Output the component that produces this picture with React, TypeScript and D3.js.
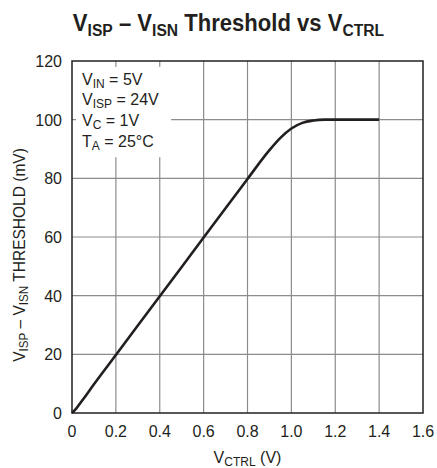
import React from 'react';
import * as d3 from 'd3';

// curve: V_CTRL (V) vs threshold (mV)
const vctrl = [0, 0.02, 0.05, 0.1, 0.2, 0.4, 0.6, 0.8, 0.9, 0.95, 1.0, 1.05, 1.1, 1.15, 1.2, 1.4];
const threshold = [0, 1.6, 4.6, 9.8, 19.8, 39.8, 59.8, 79.8, 89.6, 93.8, 97.0, 98.9, 99.7, 100, 100, 100];

const xTicks = [0, 0.2, 0.4, 0.6, 0.8, 1.0, 1.2, 1.4, 1.6];
const yTicks = [0, 20, 40, 60, 80, 100, 120];
const xTickLabels = ['0', '0.2', '0.4', '0.6', '0.8', '1.0', '1.2', '1.4', '1.6'];

const FONT = '"Liberation Sans", Arial, Helvetica, sans-serif';
const INK = '#231f20';

const W = 437;
const H = 468;
const margin = { top: 61, right: 14, bottom: 55, left: 72 };

const App: React.FC = () => {
  const x = d3.scaleLinear().domain([0, 1.6]).range([margin.left, W - margin.right]);
  const y = d3.scaleLinear().domain([0, 120]).range([H - margin.bottom, margin.top]);

  const pts = vctrl.map((v, i) => [v, threshold[i]] as [number, number]);
  const line = d3.line<[number, number]>()
    .x(d => x(d[0]))
    .y(d => y(d[1]))
    .curve(d3.curveMonotoneX);

  const x0 = x(0), x1 = x(1.6), y0 = y(0), y1 = y(120);
  // white box behind the conditions text
  const boxRight = x(0.452);
  const boxTop = y(118);
  const boxBottom = y(87.2);

  return (
    <svg width={W} height={H} style={{ position: 'absolute', left: 0, top: 0, background: '#fff' }}>
      <g fontFamily={FONT}>
        {/* title, condensed */}
        <g transform="translate(228.5,31) scale(0.92,1)">
          <text x={0} y={0} textAnchor="middle" fontSize={24} fontWeight="bold" fill={INK}>
            V<tspan fontSize={17} dy={5}>ISP</tspan>
            <tspan dy={-5}> – V</tspan>
            <tspan fontSize={17} dy={5}>ISN</tspan>
            <tspan dy={-5}> Threshold vs V</tspan>
            <tspan fontSize={17} dy={5}>CTRL</tspan>
          </text>
        </g>

        {/* grid */}
        {xTicks.slice(1, -1).map(t => (
          <line key={'gx' + t} x1={x(t)} x2={x(t)} y1={y0} y2={y1} stroke="#8c8c8c" strokeWidth={1.2} />
        ))}
        {yTicks.slice(1, -1).map(t => (
          <line key={'gy' + t} x1={x0} x2={x1} y1={y(t)} y2={y(t)} stroke="#8c8c8c" strokeWidth={1.2} />
        ))}

        <rect x={x0 + 4} y={boxTop} width={boxRight - x0 - 4} height={boxBottom - boxTop} fill="#fff" />

        {/* frame */}
        <rect x={x0} y={y1} width={x1 - x0} height={y0 - y1} fill="none" stroke={INK} strokeWidth={1.5} />

        {/* curve */}
        <path d={line(pts) || ''} fill="none" stroke={INK} strokeWidth={2.6} strokeLinejoin="round" />

        {/* tick labels */}
        {xTicks.map((t, i) => (
          <text key={'xl' + t} x={x(t)} y={437} textAnchor="middle" fontSize={16} fill={INK}>
            {xTickLabels[i]}
          </text>
        ))}
        {yTicks.map(t => (
          <text key={'yl' + t} x={62} y={y(t) + 6} textAnchor="end" fontSize={16} fill={INK}>
            {t}
          </text>
        ))}

        {/* axis titles */}
        <text x={(x0 + x1) / 2} y={463} textAnchor="middle" fontSize={16} fill={INK}>
          V<tspan fontSize={12} dy={3}>CTRL</tspan>
          <tspan dy={-3}> (V)</tspan>
        </text>
        <g transform="translate(25,255) rotate(-90) scale(0.97,1)">
          <text x={0} y={0} textAnchor="middle" fontSize={16} fill={INK}>
            V<tspan fontSize={12} dy={3}>ISP</tspan>
            <tspan dy={-3}> – V</tspan>
            <tspan fontSize={12} dy={3}>ISN</tspan>
            <tspan dy={-3}> THRESHOLD (mV)</tspan>
          </text>
        </g>

        {/* conditions */}
        <g fontSize={16} fill={INK}>
          <text x={82} y={85}>V<tspan fontSize={12} dy={3}>IN</tspan><tspan dy={-3}> = 5V</tspan></text>
          <text x={82} y={105}>V<tspan fontSize={12} dy={3}>ISP</tspan><tspan dy={-3}> = 24V</tspan></text>
          <text x={82} y={125.5}>V<tspan fontSize={12} dy={3}>C</tspan><tspan dy={-3}> = 1V</tspan></text>
          <text x={82} y={146.5}>T<tspan fontSize={12} dy={3}>A</tspan><tspan dy={-3}> = 25°C</tspan></text>
        </g>
      </g>
    </svg>
  );
};

export default App;
